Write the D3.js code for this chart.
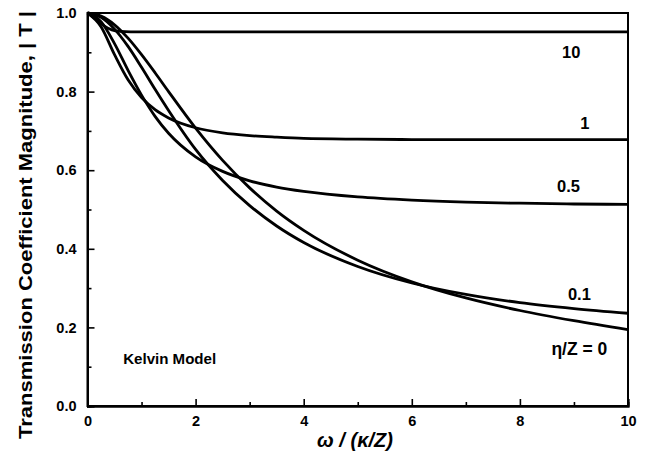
<!DOCTYPE html>
<html><head><meta charset="utf-8">
<script src="https://cdn.jsdelivr.net/npm/d3@7"></script>
<style>body{margin:0;background:#fff}svg{display:block}</style>
</head><body>
<svg id="c" width="647" height="464"></svg>
<script>
// ---- data ----
const omega   = [0, 0.25, 0.5, 0.75, 1, 1.25, 1.5, 2, 2.5, 3, 3.5, 4, 5, 6, 7, 8, 9, 10];
const tEta0   = [1, 0.992, 0.970, 0.936, 0.894, 0.848, 0.800, 0.707, 0.625, 0.555, 0.496, 0.447, 0.371, 0.316, 0.275, 0.243, 0.217, 0.194];
const tEta01  = [1, 0.989, 0.959, 0.915, 0.862, 0.806, 0.752, 0.653, 0.574, 0.510, 0.458, 0.416, 0.355, 0.313, 0.284, 0.263, 0.248, 0.236];
const tEta05  = [1, 0.978, 0.922, 0.854, 0.791, 0.737, 0.694, 0.634, 0.597, 0.573, 0.557, 0.546, 0.532, 0.524, 0.519, 0.516, 0.514, 0.513];
const tEta1   = [1, 0.965, 0.894, 0.830, 0.785, 0.754, 0.733, 0.708, 0.695, 0.688, 0.684, 0.681, 0.679, 0.678, 0.678, 0.678, 0.678, 0.678];
const omega10 = [0, 0.15, 0.3, 0.45, 0.6, 0.8, 1, 2, 4, 6, 8, 10];
const tEta10  = [1, 0.985, 0.968, 0.957, 0.953, 0.952, 0.952, 0.952, 0.952, 0.952, 0.952, 0.952];
const curveLabels = ["η/Z = 0", "0.1", "0.5", "1", "10"];
const xTicks = [0, 2, 4, 6, 8, 10];
const xMinor = [1, 3, 5, 7, 9];
const yTicks = [0, 0.2, 0.4, 0.6, 0.8, 1.0];
const yMinor = [0.1, 0.3, 0.5, 0.7, 0.9];

const svg = d3.select("#c");
const font = "'Liberation Sans', Arial, sans-serif";
const m = {l: 87.5, r: 628, t: 13, b: 406};
const x = d3.scaleLinear().domain([0, 10]).range([m.l, m.r]);
const y = d3.scaleLinear().domain([0, 1]).range([m.b, m.t]);

// frame
svg.append("rect").attr("x", m.l).attr("y", m.t).attr("width", m.r - m.l).attr("height", m.b - m.t)
  .attr("fill", "none").attr("stroke", "#000").attr("stroke-width", 2);

// axes
svg.append("g").attr("transform", `translate(0,${m.b})`)
  .call(d3.axisBottom(x).tickValues(xTicks).tickSize(-7).tickPadding(10).tickFormat(d3.format("d")));
svg.append("g").attr("transform", `translate(0,${m.b})`)
  .call(d3.axisBottom(x).tickValues(xMinor).tickSize(-4).tickFormat(""));
svg.append("g").attr("transform", `translate(${m.l},0)`)
  .call(d3.axisLeft(y).tickValues(yTicks).tickSize(-7).tickPadding(11).tickFormat(d3.format(".1f")));
svg.append("g").attr("transform", `translate(${m.l},0)`)
  .call(d3.axisLeft(y).tickValues(yMinor).tickSize(-4).tickFormat(""));
svg.selectAll(".domain").attr("stroke-width", 2);
svg.selectAll(".tick line").attr("stroke-width", 1.6);
svg.selectAll(".tick text").attr("font-family", font).attr("font-weight", "bold").attr("font-size", 14.5).attr("fill", "#000");

// curves
const line = d3.line().x(d => x(d[0])).y(d => y(d[1])).curve(d3.curveMonotoneX);
const series = [
  d3.zip(omega, tEta0), d3.zip(omega, tEta01), d3.zip(omega, tEta05),
  d3.zip(omega, tEta1), d3.zip(omega10, tEta10)
];
svg.append("g").selectAll("path").data(series).join("path")
  .attr("d", line).attr("fill", "none").attr("stroke", "#000").attr("stroke-width", 2.8)
  .attr("stroke-linejoin", "round");

// curve labels (positions in data coordinates)
const labelPos = [[9.1, 0.13], [9.1, 0.27], [8.9, 0.545], [9.2, 0.705], [8.95, 0.885]];
svg.append("g").selectAll("text").data(curveLabels).join("text")
  .attr("x", (d, i) => x(labelPos[i][0])).attr("y", (d, i) => y(labelPos[i][1]))
  .attr("text-anchor", "middle").attr("font-family", font).attr("font-weight", "bold")
  .attr("font-size", (d, i) => i === 0 ? 17.5 : 16.5).text(d => d);

// model label
svg.append("text").attr("x", x(0.66)).attr("y", y(0.107))
  .attr("font-family", font).attr("font-weight", "bold").attr("font-size", 14)
  .attr("textLength", 93).attr("lengthAdjust", "spacingAndGlyphs").text("Kelvin Model");

// axis titles
svg.append("text").attr("x", 355).attr("y", 447).attr("text-anchor", "middle")
  .attr("font-family", font).attr("font-weight", "bold").attr("font-size", 20).attr("font-style", "italic")
  .text("ω / (κ/Z)");
svg.append("text").attr("transform", "translate(32,225) rotate(-90)").attr("text-anchor", "middle")
  .attr("font-family", font).attr("font-weight", "bold").attr("font-size", 18)
  .attr("textLength", 428).attr("lengthAdjust", "spacingAndGlyphs")
  .text("Transmission Coefficient Magnitude, | T |");
</script>
</body></html>
